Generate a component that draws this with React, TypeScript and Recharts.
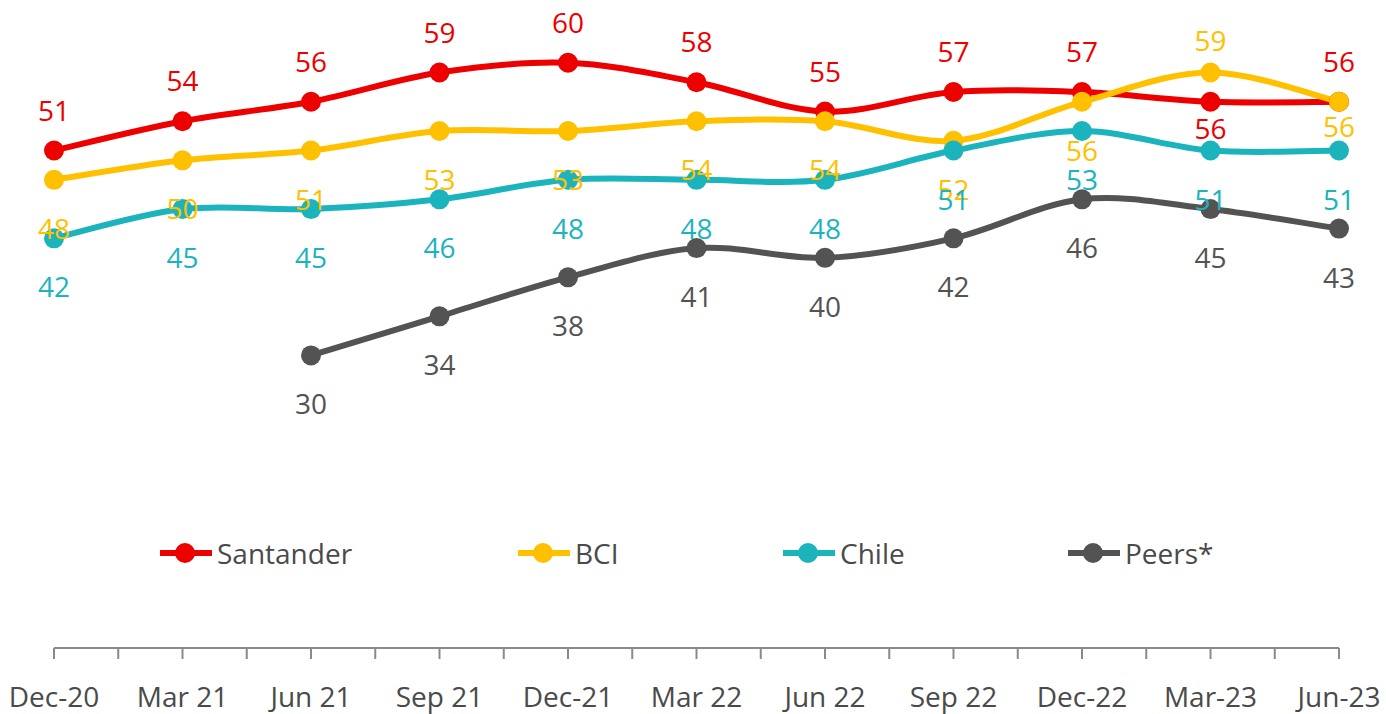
import React from "react";
import { LineChart, Line, XAxis, YAxis, Legend, LabelList } from "recharts";

const categories = ["Dec-20", "Mar 21", "Jun 21", "Sep 21", "Dec-21", "Mar 22", "Jun 22", "Sep 22", "Dec-22", "Mar-23", "Jun-23"];
const santander = [51, 54, 56, 59, 60, 58, 55, 57, 57, 56, 56];
const bci = [48, 50, 51, 53, 53, 54, 54, 52, 56, 59, 56];
const chile = [42, 45, 45, 46, 48, 48, 48, 51, 53, 51, 51];
const peers = [null, null, 30, 34, 38, 41, 40, 42, 46, 45, 43];

const series = [
  { key: "santander", name: "Santander", color: "#ec0000", values: santander },
  { key: "bci", name: "BCI", color: "#ffc000", values: bci },
  { key: "chile", name: "Chile", color: "#1bb4bd", values: chile },
  { key: "peers", name: "Peers*", color: "#535353", values: peers },
];

const data = categories.map((c, i) => ({
  x: i,
  label: c,
  santander: santander[i],
  bci: bci[i],
  chile: chile[i],
  peers: peers[i],
}));

// ticks every half step, labels only on the whole ones
const xTicks = categories.flatMap((_, i) => (i < categories.length - 1 ? [i, i + 0.5] : [i]));

const FONT = "'Open Sans', sans-serif";

// excel-like smoothing (catmull-rom style bezier), used as a d3 curve factory
const smoothCurve = (context: any) => {
  let pts: number[][] = [];
  const draw = () => {
    if (!pts.length) return;
    context.moveTo(pts[0][0], pts[0][1]);
    for (let i = 0; i < pts.length - 1; i++) {
      const p0 = pts[i - 1] || pts[i];
      const p1 = pts[i];
      const p2 = pts[i + 1];
      const p3 = pts[i + 2] || p2;
      context.bezierCurveTo(
        p1[0] + (p2[0] - p0[0]) / 6,
        p1[1] + (p2[1] - p0[1]) / 6,
        p2[0] - (p3[0] - p1[0]) / 6,
        p2[1] - (p3[1] - p1[1]) / 6,
        p2[0],
        p2[1]
      );
    }
  };
  return {
    areaStart() {},
    areaEnd() {},
    lineStart() {
      pts = [];
    },
    lineEnd() {
      draw();
    },
    point(x: number, y: number) {
      pts.push([+x, +y]);
    },
  };
};

// label offsets from the dot: santander above, others below, a few moved by hand
const defaultOffset: Record<string, number> = { santander: -41, bci: 48, chile: 48, peers: 48 };
const specialOffset: Record<string, Record<number, number>> = {
  santander: { 9: 26 },
  bci: { 9: -33, 10: 24 },
};

const makeLabel = (key: string, color: string) => (props: any) => {
  const { x, y, value, index } = props;
  if (value == null) return null;
  const off = specialOffset[key]?.[index] ?? defaultOffset[key];
  return (
    <text
      x={x}
      y={y + off}
      textAnchor="middle"
      dominantBaseline="central"
      fill={color}
      fontSize={28}
      fontFamily={FONT}
    >
      {value}
    </text>
  );
};

const XTick = (props: any) => {
  const { x, y, payload } = props;
  const v = payload.value;
  if (!Number.isInteger(v)) return null;
  return (
    <text
      x={x}
      y={y + 35}
      textAnchor="middle"
      dominantBaseline="central"
      fill="#4a4a4a"
      fontSize={28}
      fontFamily={FONT}
    >
      {categories[v]}
    </text>
  );
};

const legendPos = [160, 518, 783, 1068];

const renderLegend = () => (
  <div style={{ position: "relative", width: 1386, height: 40 }}>
    {series.map((s, i) => (
      <div
        key={s.key}
        style={{
          position: "absolute",
          left: legendPos[i],
          top: 0,
          height: 40,
          display: "flex",
          alignItems: "center",
          fontFamily: FONT,
          fontSize: 28,
          color: "#4a4a4a",
        }}
      >
        <svg width={52} height={24} style={{ marginRight: 5 }}>
          <line x1={0} y1={12} x2={52} y2={12} stroke={s.color} strokeWidth={6} />
          <circle cx={25} cy={12} r={10} fill={s.color} />
        </svg>
        <span>{s.name}</span>
      </div>
    ))}
  </div>
);

export default function App() {
  return (
    <div style={{ position: "absolute", left: 0, top: 0, width: 1386, height: 714, background: "#ffffff" }}>
      <LineChart width={1386} height={714} data={data} margin={{ top: 14, right: 47, left: 54, bottom: 0 }}>
        <XAxis
          dataKey="x"
          type="number"
          domain={[0, categories.length - 1]}
          ticks={xTicks}
          interval={0}
          height={66}
          stroke="#8a8a8a"
          strokeWidth={2}
          tickSize={11}
          tick={<XTick />}
        />
        <YAxis hide domain={[0, 65]} />
        <Legend
          verticalAlign="middle"
          content={renderLegend}
          wrapperStyle={{ position: "absolute", top: 533, left: 0, width: 1386, height: 40 }}
        />
        {series.map((s) => (
          <Line
            key={s.key}
            dataKey={s.key}
            name={s.name}
            type={smoothCurve as any}
            stroke={s.color}
            strokeWidth={6}
            dot={{ r: 10, fill: s.color, stroke: "none" }}
            activeDot={false}
            isAnimationActive={false}
          />
        ))}
        {/* second pass so that all value labels sit on top of every line */}
        {series.map((s) => (
          <Line
            key={s.key + "-labels"}
            dataKey={s.key}
            stroke="none"
            dot={false}
            activeDot={false}
            legendType="none"
            isAnimationActive={false}
          >
            <LabelList dataKey={s.key} content={makeLabel(s.key, s.color)} />
          </Line>
        ))}
      </LineChart>
    </div>
  );
}
